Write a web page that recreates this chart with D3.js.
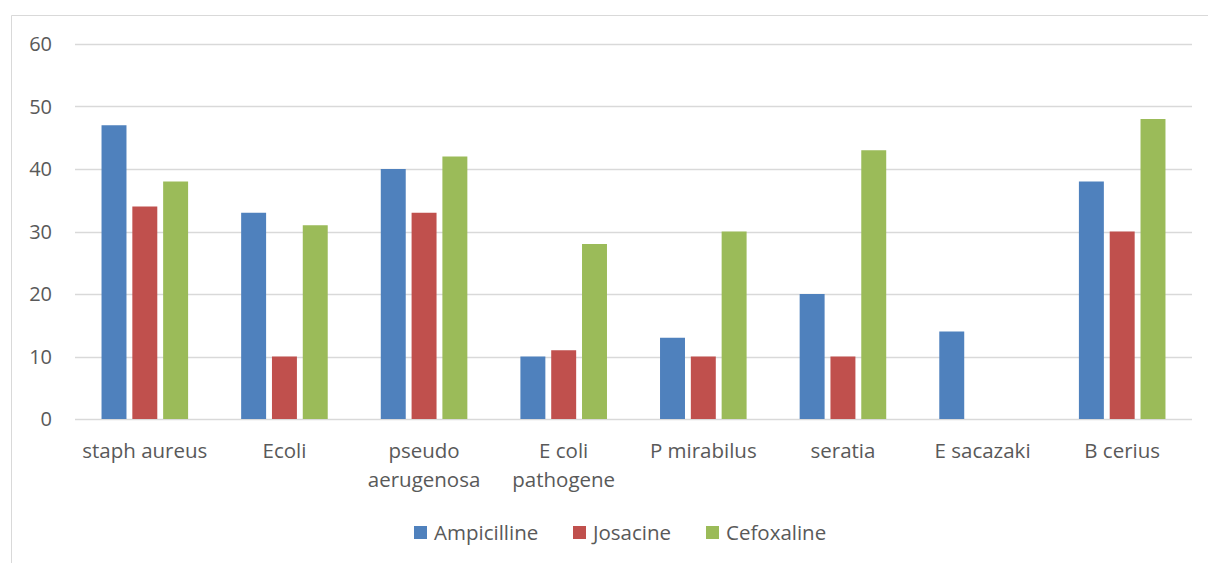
<!DOCTYPE html>
<html>
<head>
<meta charset="utf-8">
<script src="https://cdn.jsdelivr.net/npm/d3@7"></script>
<style>
  html, body { margin: 0; padding: 0; background: #fff; }
  svg { display: block; }
  text { font-family: "Open Sans", "Liberation Sans", sans-serif; fill: #595959; }
</style>
</head>
<body>
<svg id="chart" width="1208" height="563"></svg>
<script>
// Bacterial strains (each label line listed separately)
const categories = [
  ["staph aureus"],
  ["Ecoli"],
  ["pseudo", "aerugenosa"],
  ["E coli", "pathogene"],
  ["P mirabilus"],
  ["seratia"],
  ["E sacazaki"],
  ["B cerius"]
];
const seriesNames = ["Ampicilline", "Josacine", "Cefoxaline"];
const ampicilline = [47, 33, 40, 10, 13, 20, 14, 38];
const josacine    = [34, 10, 33, 11, 10, 10, 0, 30];
const cefoxaline  = [38, 31, 42, 28, 30, 43, 0, 48];
const yTicks = [0, 10, 20, 30, 40, 50, 60];
const colors = ["#4F81BD", "#C0504D", "#9BBB59"];

const seriesValues = [ampicilline, josacine, cefoxaline];
const svg = d3.select("#chart");

// chart frame (top and left edges)
svg.append("line").attr("x1", 11.5).attr("x2", 1208).attr("y1", 15.5).attr("y2", 15.5)
  .attr("stroke", "#D9D9D9").attr("stroke-width", 1);
svg.append("line").attr("x1", 11.5).attr("x2", 11.5).attr("y1", 15.5).attr("y2", 563)
  .attr("stroke", "#D9D9D9").attr("stroke-width", 1);

const plot = { left: 75, right: 1192, top: 44, bottom: 419 };

const x0 = d3.scaleBand()
  .domain(d3.range(categories.length))
  .range([plot.left, plot.right])
  .paddingInner(0.38)
  .paddingOuter(0.19);

const x1 = d3.scaleBand()
  .domain(d3.range(seriesNames.length))
  .range([0, x0.bandwidth()])
  .paddingInner(0.19);

const y = d3.scaleLinear().domain([0, 60]).range([plot.bottom, plot.top]);

// gridlines
svg.append("g").selectAll("line").data(yTicks).join("line")
  .attr("x1", plot.left).attr("x2", plot.right)
  .attr("y1", d => Math.round(y(d)) + 0.5).attr("y2", d => Math.round(y(d)) + 0.5)
  .attr("stroke", "#D9D9D9").attr("stroke-width", 1.3);

// y tick labels
svg.append("g").selectAll("text").data(yTicks).join("text")
  .attr("x", 52).attr("y", d => y(d))
  .attr("dy", "0.36em")
  .attr("text-anchor", "end")
  .attr("font-size", 20)
  .text(d => d);

// bars
const groups = svg.append("g").selectAll("g").data(categories).join("g")
  .attr("transform", (d, i) => `translate(${x0(i)},0)`);

groups.selectAll("rect")
  .data((d, i) => seriesValues.map((vals, s) => ({ s, v: vals[i] })))
  .join("rect")
  .attr("x", d => x1(d.s))
  .attr("width", x1.bandwidth())
  .attr("y", d => y(d.v))
  .attr("height", d => y(0) - y(d.v))
  .attr("fill", d => colors[d.s]);

// category labels
const labels = svg.append("g").selectAll("text").data(categories).join("text")
  .attr("text-anchor", "middle")
  .attr("font-size", 20.5)
  .attr("x", (d, i) => x0(i) + x0.bandwidth() / 2)
  .attr("y", 458);
labels.selectAll("tspan").data(d => d).join("tspan")
  .attr("x", function () { return d3.select(this.parentNode).attr("x"); })
  .attr("dy", (d, j) => j === 0 ? 0 : 29)
  .text(d => d);

// legend
const legendX = [414, 573, 706];
const legend = svg.append("g").selectAll("g").data(seriesNames).join("g")
  .attr("transform", (d, i) => `translate(${legendX[i]},526)`);
legend.append("rect").attr("width", 13).attr("height", 13)
  .attr("fill", (d, i) => colors[i]);
legend.append("text").attr("x", 20).attr("y", 6.5).attr("dy", "0.36em")
  .attr("font-size", 20.5).text(d => d);
</script>
</body>
</html>
